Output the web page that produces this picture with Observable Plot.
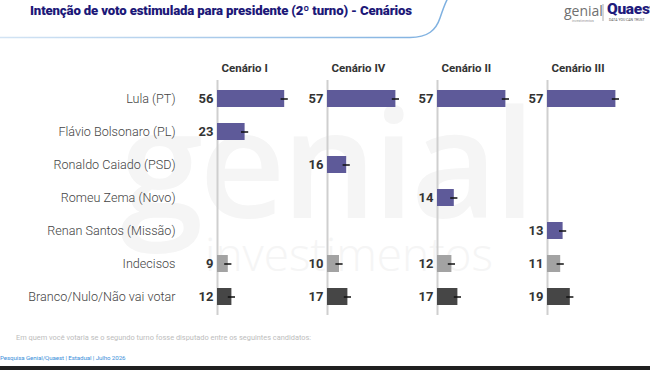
<!DOCTYPE html>
<html><head><meta charset="utf-8">
<script src="https://cdn.jsdelivr.net/npm/d3@7"></script>
<script src="https://cdn.jsdelivr.net/npm/@observablehq/plot@0.6"></script>
<style>
html,body{margin:0;padding:0;background:#fff;}
body{width:650px;height:370px;position:relative;overflow:hidden;font-family:Roboto,sans-serif;}
#title{position:absolute;left:30px;top:3px;font-family:Roboto;font-weight:900;font-size:13.2px;letter-spacing:-0.15px;color:#1c1878;white-space:nowrap;}
#chart{position:absolute;left:0;top:55px;z-index:2;}
.wm{position:absolute;color:#f5f5f5;font-family:"Open Sans",sans-serif;white-space:nowrap;z-index:1;}
#caption{position:absolute;left:16px;top:333px;font-size:7.4px;color:#bdbdbd;white-space:nowrap;}
#footer{position:absolute;left:0;top:354px;font-size:6.2px;letter-spacing:-0.1px;color:#3b8fd9;white-space:nowrap;}
#bottom{position:absolute;left:0;top:366px;width:650px;height:4px;background:#202020;}
#deco{position:absolute;left:0;top:0;z-index:0;}
.logo{position:absolute;white-space:nowrap;}
</style></head>
<body>
<svg id="deco" width="650" height="370">
  <defs>
    <linearGradient id="g1" x1="0" x2="1" y1="0" y2="0">
      <stop offset="0" stop-color="#d3e4f4"/><stop offset="1" stop-color="#7eb0e0"/>
    </linearGradient>
    <linearGradient id="g2" x1="0" x2="1" y1="0" y2="0">
      <stop offset="0" stop-color="#5a9ee0"/><stop offset="1" stop-color="#b9d5ef"/>
    </linearGradient>
  </defs>
  <path d="M0,37.5 H410 C428,37.5 436,30 440,18 C443,9 445,3 448,-2" fill="none" stroke="url(#g1)" stroke-width="1.5"/>
  <line x1="128" x2="650" y1="359" y2="359" stroke="url(#g2)" stroke-width="1.2"/>
  <line x1="603" x2="603" y1="4" y2="21" stroke="#999" stroke-width="0.8"/>
</svg>
<div class="logo" style="left:564px;top:1px;font-size:14px;color:#707070;font-family:'Open Sans';">genial</div>
<div class="logo" style="left:572px;top:19px;font-size:3.5px;color:#999;">investimentos</div>
<div class="logo" style="left:607px;top:0px;font-size:15.5px;font-weight:900;color:#1f1b7c;font-family:Roboto;letter-spacing:-0.3px;">Quaest</div>
<div class="logo" style="left:609px;top:18px;font-size:3.5px;color:#555;">DATA YOU CAN TRUST</div>
<div id="title">Intenção de voto estimulada para presidente (2º turno) - Cenários</div>
<div class="wm" style="left:120px;top:58px;font-size:150px;font-weight:600;letter-spacing:-4px;">genial</div>
<div class="wm" style="left:205px;top:222px;font-size:46px;font-weight:300;">investimentos</div>
<div id="chart"></div>
<div id="caption">Em quem você votaria se o segundo turno fosse disputado entre os seguintes candidatos:</div>
<div id="footer">Pesquisa Genial/Quaest | Estadual | Julho 2026</div>
<div id="bottom"></div>
<script>
const scenarios = ["Cenário I", "Cenário IV", "Cenário II", "Cenário III"];
const candidates = ["Lula (PT)", "Flávio Bolsonaro (PL)", "Ronaldo Caiado (PSD)", "Romeu Zema (Novo)", "Renan Santos (Missão)", "Indecisos", "Branco/Nulo/Não vai votar"];
const cenarioI   = [56, 23, null, null, null, 9, 12];
const cenarioIV  = [57, null, 16, null, null, 10, 17];
const cenarioII  = [57, null, null, 14, null, 12, 17];
const cenarioIII = [57, null, null, null, 13, 11, 19];
const margemErro = 3;

const series = [cenarioI, cenarioIV, cenarioII, cenarioIII];
const rows = scenarios.flatMap((s, i) => candidates.map((c, j) => ({scen: s, cand: c, value: series[i][j]})))
  .filter(d => d.value != null);
const colorFor = c => c === "Indecisos" ? "#a3a3a3" : c === "Branco/Nulo/Não vai votar" ? "#464646" : "#5e5a99";

const chart = Plot.plot({
  width: 650, height: 270,
  marginLeft: 215, marginRight: 11, marginTop: 25, marginBottom: 10,
  style: {background: "transparent", fontFamily: "Roboto"},
  fx: {domain: scenarios, paddingInner: 0.18, paddingOuter: 0, axis: null, label: null},
  x: {domain: [0, 75], axis: null},
  y: {domain: candidates, paddingInner: 0.48, paddingOuter: 0.3, axis: null, label: null},
  marks: [
    Plot.axisY({tickSize: 0, tickPadding: 42, fontSize: 12.6, fontWeight: 300, fill: "#444", label: null}),
    Plot.ruleX([0], {stroke: "#cfcfcf", strokeWidth: 2}),
    Plot.barX(rows, {fx: "scen", y: "cand", x: "value", fill: d => colorFor(d.cand)}),
    Plot.ruleY(rows, {fx: "scen", y: "cand", x1: d => d.value - margemErro, x2: d => d.value + margemErro, stroke: "#111", strokeWidth: 1.5}),
    Plot.text(rows, {fx: "scen", y: "cand", x: 0, text: d => String(d.value), textAnchor: "end", dx: -4, fontWeight: 700, fontSize: 13, fill: "#333"}),
    Plot.text(scenarios, {fx: d => d, text: d => d, frameAnchor: "top-left", lineAnchor: "middle", dx: 4, dy: -12, fontWeight: 700, fontSize: 11.5, fill: "#333"})
  ]
});
document.getElementById("chart").appendChild(chart);
</script>
</body></html>
